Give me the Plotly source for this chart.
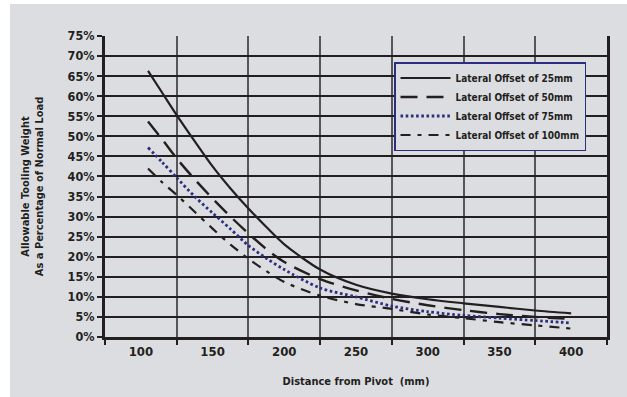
import plotly.graph_objects as go

# Distance from pivot (mm) at which each curve is sampled
distance_mm = [105, 115, 125, 137.5, 150, 162.5, 175, 187.5, 200,
               225, 250, 275, 300, 325, 350, 375, 400]

# Allowable tooling weight, % of normal load, per lateral offset
offset_25mm = [66.3, 60.8, 55.3, 48.8, 42.5, 37.0, 32.0, 27.4, 23.1,
               16.8, 13.0, 10.8, 9.4, 8.4, 7.5, 6.6, 5.9]
offset_50mm = [53.7, 49.2, 44.5, 39.3, 34.5, 30.0, 25.8, 21.9, 18.7,
               14.4, 11.6, 9.5, 7.9, 6.7, 5.7, 5.0, 4.5]
offset_75mm = [47.2, 43.5, 39.7, 35.0, 30.9, 26.9, 22.8, 19.6, 16.8,
               12.2, 10.0, 7.7, 6.3, 5.4, 4.7, 4.1, 3.5]
offset_100mm = [42.0, 38.5, 35.4, 31.2, 27.0, 23.0, 19.5, 16.4, 13.7,
                10.3, 8.2, 7.0, 5.6, 4.7, 3.7, 2.9, 2.1]

series_names = ["Lateral Offset of 25mm", "Lateral Offset of 50mm",
                "Lateral Offset of 75mm", "Lateral Offset of 100mm"]

x_tick_values = [100, 150, 200, 250, 300, 350, 400]
y_tick_values = list(range(0, 80, 5))
y_tick_text = [f"{v}%" for v in y_tick_values]

INK = "#231f20"
NAVY = "#2b2e7e"
PANEL = "#dcdde0"
FONT = "DejaVu Sans Condensed, Liberation Sans Narrow, Arial Narrow, sans-serif"

styles = [
    dict(color=INK, width=2.2, dash="solid"),
    dict(color=INK, width=2.4, dash="17px,9px"),
    dict(color=NAVY, width=2.8, dash="2.6px,2.6px"),
    dict(color=INK, width=2.2, dash="10px,7px,4px,7px"),
]

fig = go.Figure()
for name, values, style in zip(series_names,
                               [offset_25mm, offset_50mm, offset_75mm, offset_100mm],
                               styles):
    fig.add_trace(go.Scatter(
        x=distance_mm, y=values, name=name, mode="lines",
        line=dict(shape="spline", smoothing=0.8, **style),
    ))

L, R, T, B = 105, 20, 36, 60
W, H = 627, 397
pw, ph = W - L - R, H - T - B

fig.update_layout(
    width=W, height=H,
    margin=dict(l=L, r=R, t=T, b=B, pad=0),
    paper_bgcolor="white",
    plot_bgcolor=PANEL,
    font=dict(family=FONT, color=INK, size=13, weight="bold"),
    showlegend=True,
    legend=dict(
        x=(394 - L) / pw, y=(H - B - 62) / ph,
        xanchor="left", yanchor="top",
        bgcolor=PANEL, bordercolor=NAVY, borderwidth=1.5,
        font=dict(family=FONT, size=10, color=INK, weight="bold"),
        itemwidth=50, tracegroupgap=0,
    ),
    shapes=[dict(
        type="rect", xref="paper", yref="paper", layer="below",
        x0=(10 - L) / pw, x1=(W - L) / pw,
        y0=-B / ph, y1=(H - B - 4) / ph,
        fillcolor=PANEL, line=dict(width=0),
    )],
)

fig.update_xaxes(
    range=[75, 425],
    tickmode="array", tickvals=x_tick_values,
    ticks="", showgrid=False, zeroline=False,
    showline=True, linecolor=INK, linewidth=3,
    tickfont=dict(size=13),
    minor=dict(tick0=75, dtick=50, ticks="outside", ticklen=5,
               tickwidth=2, tickcolor=INK,
               showgrid=True, gridcolor="#55565a", gridwidth=1.5),
    title=dict(text="Distance from Pivot  (mm)",
               font=dict(size=11), standoff=20),
)

fig.update_yaxes(
    range=[0, 75],
    tickmode="array", tickvals=y_tick_values, ticktext=y_tick_text,
    ticks="outside", ticklen=5, tickwidth=2, tickcolor=INK,
    showgrid=True, gridcolor=INK, gridwidth=2, zeroline=False,
    showline=True, linecolor=INK, linewidth=3, mirror=True,
    tickfont=dict(size=12.5),
    title=dict(text="Allowable Tooling Weight<br>As a Percentage of Normal Load",
               font=dict(size=11), standoff=22),
)

fig.write_html("out.html")
